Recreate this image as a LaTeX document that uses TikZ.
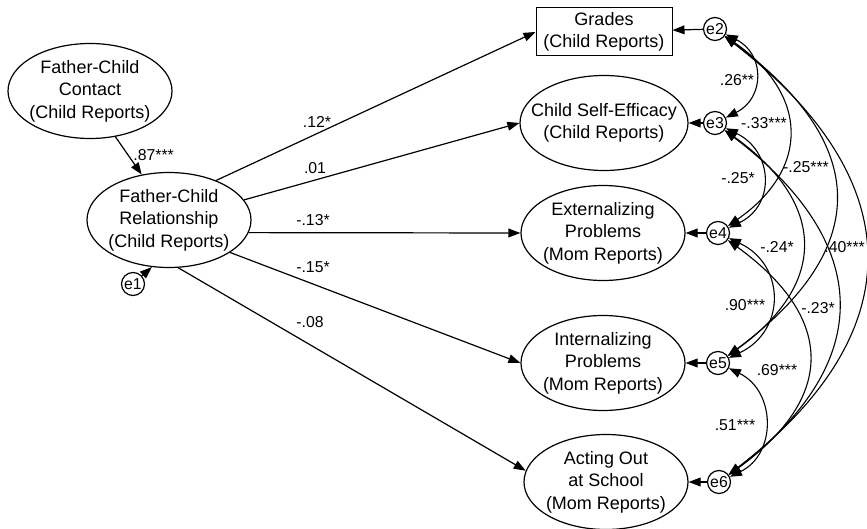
\documentclass[tikz,border=0pt]{standalone}
\usepackage{fontspec}
\setmainfont{Liberation Sans}
\usetikzlibrary{arrows.meta,shapes.geometric}
\newcommand{\boxfont}{\fontsize{9}{11.2}\selectfont}
\newcommand{\coeffont}{\fontsize{7.9}{9}\selectfont}
\tikzset{
  latent/.style={ellipse,draw,line width=0.6pt,inner sep=-12pt,align=center,
                 minimum width=82pt,minimum height=47.5pt,font=\boxfont},
  observed/.style={rectangle,draw,line width=0.5pt,inner sep=0pt,align=center,
                   minimum width=68pt,minimum height=24pt,font=\boxfont},
  err/.style={circle,draw,line width=0.6pt,inner sep=0pt,minimum size=11.5pt,font=\coeffont},
  reg/.style={-{Triangle[length=6pt,width=4.4pt]},line width=0.6pt},
  cov/.style={{Triangle[length=6pt,width=4.4pt]}-{Triangle[length=6pt,width=4.4pt]},line width=0.55pt},
  coef/.style={inner sep=0pt,font=\coeffont},
}

\begin{document}
\begin{tikzpicture}[x=0.5pt,y=-0.5pt]
  \useasboundingbox (0,0) rectangle (867,529);
  % --- father-child side ---
  \node[latent] (contact) at (90,91) {Father-Child\\Contact\\(Child Reports)};
  \node[latent] (rel) at (169,220) {Father-Child\\Relationship\\(Child Reports)};
  \node[err] (e1) at (133,284) {e1};
  \draw[reg] (contact.-61) -- (rel.121);
  \draw[reg] (e1) -- (rel.-110);
  \node[coef,anchor=west] (b87) at (133,155) {.87***};
  % --- outcomes ---
  \node[observed] (grades) at (604,32) {Grades\\(Child Reports)};
  \node[latent,minimum width=84pt] (selfeff) at (604,123) {Child Self-Efficacy\\(Child Reports)};
  \node[latent] (ext) at (603,233) {Externalizing\\Problems\\(Mom Reports)};
  \node[latent] (int) at (603,363) {Internalizing\\Problems\\(Mom Reports)};
  \node[latent] (act) at (606,482) {Acting Out\\at School\\(Mom Reports)};
  % --- residuals of the outcomes ---
  \foreach \n/\x/\y/\t in {2/715/29/grades,3/715/123/selfeff,4/718/233/ext,
                           5/718/363/int,6/719/482/act}{
    \node[err] (e\n) at (\x,\y) {e\n};
    \draw[reg] (e\n) -- (\t);
  }
  % regression paths
  \draw[reg] (rel.40) -- (grades.west);
  \draw[reg] (rel.15) -- (selfeff.west);
  \draw[reg] (rel.-9) -- (ext.west);
  \draw[reg] (rel.-28) -- (int.west);
  \draw[reg] (rel.-79) -- (act.172);
  \node[coef] (b12) at (317,122) {.12*};
  \node[coef] (b01) at (315,168) {.01};
  \node[coef] (b13) at (313,220) {-.13*};
  \node[coef] (b15) at (313,267) {-.15*};
  \node[coef] (b08) at (310,322) {-.08};
  % --- error covariances ---
  \draw[cov] (e2) .. controls +(50,25) and +(50,-25) .. (e3);
  \draw[cov] (e3) .. controls +(58,28) and +(58,-28) .. (e4);
  \draw[cov] (e4) .. controls +(68,32) and +(68,-32) .. (e5);
  \draw[cov] (e5) .. controls +(58,28) and +(58,-28) .. (e6);
  \draw[cov] (e2) .. controls +(93,65) and +(93,-65) .. (e4);
  \draw[cov] (e3) .. controls +(111,80) and +(111,-80) .. (e5);
  \draw[cov] (e4) .. controls +(117,85) and +(117,-85) .. (e6);
  \draw[cov] (e2) .. controls +(155,115) and +(155,-115) .. (e5);
  \draw[cov] (e3) .. controls +(158,120) and +(158,-120) .. (e6);
  \draw[cov] (e2) .. controls +(195,150) and +(195,-150) .. (e6);
  \node[coef] (r23) at (737,80) {.26**};
  \node[coef] (r24) at (764,123) {-.33***};
  \node[coef] (r34) at (738,178) {-.25*};
  \node[coef] (r25) at (806,167) {-.25***};
  \node[coef] (r35) at (777,247) {-.24*};
  \node[coef,anchor=west] (r26) at (824,247) {.40***};
  \node[coef] (r45) at (745,305) {.90***};
  \node[coef] (r36) at (818,308) {-.23*};
  \node[coef] (r46) at (777,370) {.69***};
  \node[coef] (r56) at (735,425) {.51***};
\end{tikzpicture}
\end{document}
